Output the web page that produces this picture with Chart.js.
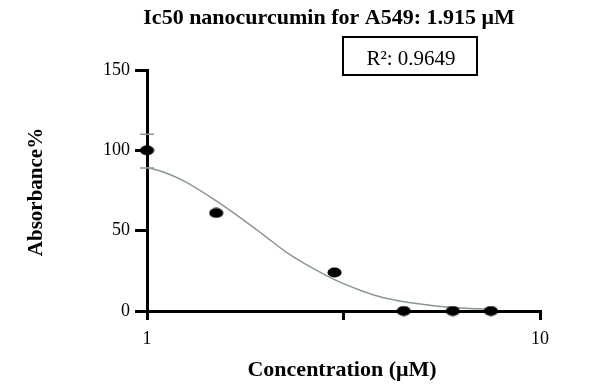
<!DOCTYPE html>
<html><head><meta charset="utf-8">
<script src="https://cdn.jsdelivr.net/npm/chart.js@4.4.1/dist/chart.umd.min.js"></script>
<style>html,body{margin:0;padding:0;background:#fff;overflow:hidden}</style>
</head><body>
<canvas id="c" width="600" height="389" style="width:600px;height:389px;display:block"></canvas>
<script>
// ---- data ----
const titleText = 'Ic50 nanocurcumin for A549: 1.915 μM';
const r2Text = 'R²: 0.9649';
const xAxisTitle = 'Concentration (μM)';
const yAxisTitle = 'Absorbance%';
const concentrations = [1, 1.5, 3, 4.5, 6, 7.5];
const absorbance = [100, 61, 24, 0, 0, 0];
const errorHigh = [110, null, null, null, null, null];
const errorLow = [89, null, null, null, null, null];
const fitX = [1, 1.1, 1.25, 1.5, 1.75, 2, 2.25, 2.5, 3, 3.5, 4, 5, 6, 7, 7.5];
const fitY = [89.4, 86.5, 80.5, 68.5, 57, 46.5, 37, 30, 19.5, 12.8, 8.3, 4.2, 2.2, 1.4, 1.1];
const xTickValues = [1, 3.16, 10];
const xTickLabels = ['1', '', '10'];
const yTickValues = [0, 50, 100, 150];

const SERIF = '"Liberation Serif", "Times New Roman", serif';
const curveColor = '#8a9890';

// ellipse point marker
const dot = document.createElement('canvas');
dot.width = 15; dot.height = 11;
(function(){ const g = dot.getContext('2d'); g.fillStyle = '#000'; g.beginPath(); g.ellipse(7.5, 5.5, 7, 5, 0, 0, Math.PI*2); g.fill(); })();

const decor = {
  id: 'decor',
  afterDatasetsDraw(chart) {
    const ctx = chart.ctx, xs = chart.scales.x, ys = chart.scales.y;
    ctx.save();
    ctx.strokeStyle = curveColor; ctx.lineWidth = 1.5;
    concentrations.forEach((c, i) => {
      if (errorHigh[i] == null) return;
      const px = xs.getPixelForValue(c);
      [errorHigh[i], errorLow[i]].forEach(v => {
        const py = ys.getPixelForValue(v);
        ctx.beginPath(); ctx.moveTo(px - 7, py); ctx.lineTo(px + 7, py); ctx.stroke();
      });
    });
    ctx.restore();
  },
  afterDraw(chart) {
    const ctx = chart.ctx;
    ctx.save();
    ctx.fillStyle = '#000';
    ctx.font = 'bold 22px ' + SERIF;
    ctx.textAlign = 'center'; ctx.textBaseline = 'alphabetic';
    ctx.fillText(titleText, 329, 24);
    ctx.lineWidth = 2; ctx.strokeStyle = '#000';
    ctx.strokeRect(343, 37, 134, 38);
    ctx.font = '21px ' + SERIF;
    ctx.fillText(r2Text, 411, 65);
    ctx.font = 'bold 22px ' + SERIF;
    ctx.fillText(xAxisTitle, 342, 376);
    ctx.translate(42, 192); ctx.rotate(-Math.PI/2);
    ctx.font = 'bold 21px ' + SERIF;
    ctx.fillText(yAxisTitle, 0, 0);
    ctx.restore();
  }
};

new Chart(document.getElementById('c'), {
  data: {
    datasets: [
      {
        type: 'line',
        data: fitX.map((x, i) => ({x, y: fitY[i]})),
        borderColor: curveColor, borderWidth: 1.5,
        pointRadius: 0, fill: false,
        tension: 0.4,
        clip: false, order: 2
      },
      {
        type: 'scatter',
        data: concentrations.map((x, i) => ({x, y: absorbance[i]})),
        pointStyle: dot, pointRadius: 7,
        backgroundColor: '#000', borderColor: '#000',
        clip: false, order: 1
      }
    ]
  },
  options: {
    responsive: false, animation: false,
    layout: { padding: { top: 70, right: 60, left: 0, bottom: 0 } },
    plugins: { legend: { display: false }, tooltip: { enabled: false }, title: { display: false } },
    scales: {
      x: {
        type: 'logarithmic', min: 1, max: 10,
        afterFit(s) { s.height = 78; },
        afterBuildTicks(s) { s.ticks = xTickValues.map(v => ({value: v})); },
        ticks: {
          autoSkip: false, maxRotation: 0, padding: 8,
          color: '#000', font: { family: SERIF, size: 18 },
          callback(v) { const i = xTickValues.indexOf(v); return i >= 0 ? xTickLabels[i] : ''; }
        },
        grid: { display: true, drawOnChartArea: false, drawTicks: true, tickLength: 9, color: '#000', lineWidth: 3 },
        border: { display: true, color: '#000', width: 3 }
      },
      y: {
        type: 'linear', min: 0, max: 150,
        afterFit(s) { s.width = 147; },
        afterBuildTicks(s) { s.ticks = yTickValues.map(v => ({value: v})); },
        ticks: {
          padding: 5, color: '#000', font: { family: SERIF, size: 18 }
        },
        grid: { display: true, drawOnChartArea: false, drawTicks: true, tickLength: 12, color: '#000', lineWidth: 3 },
        border: { display: true, color: '#000', width: 3 }
      }
    }
  },
  plugins: [decor]
});
</script>
</body></html>
